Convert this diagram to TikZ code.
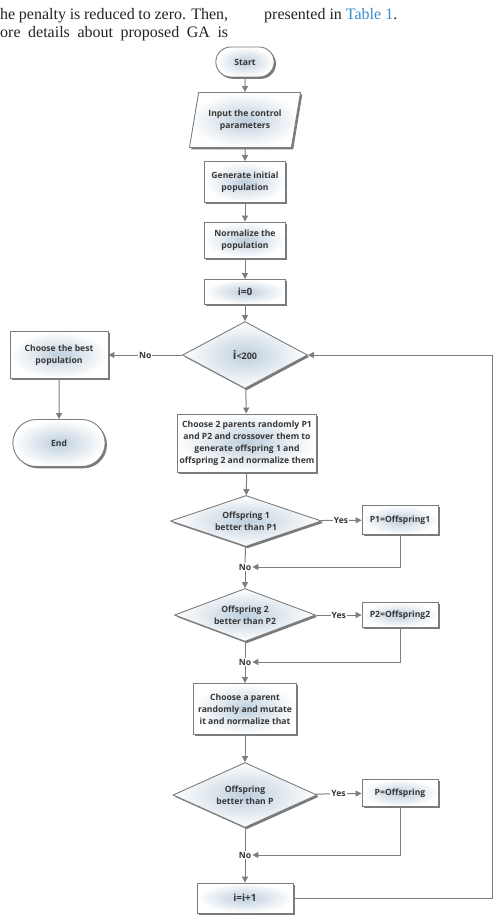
\documentclass[tikz,border=0pt]{standalone}
\usepackage{fontspec}
\setmainfont{Liberation Serif}
\newfontfamily\chartfont{Open Sans}
\usetikzlibrary{shapes.geometric,shapes.misc,shadows,arrows.meta,positioning}

\definecolor{boxline}{RGB}{125,125,125}
\definecolor{boxfill}{RGB}{190,207,221}
\definecolor{boxtext}{RGB}{55,55,55}
\definecolor{linkblue}{RGB}{55,140,200}
\definecolor{bodytext}{RGB}{35,35,35}

\tikzset{
  base/.style={draw=boxline, line width=0.9pt, text=boxtext, align=center,
    font=\chartfont\bfseries\fontsize{8.6}{12}\selectfont,
    inner color=boxfill, outer color=white,
    drop shadow={shadow xshift=1.8pt, shadow yshift=-1.8pt, fill=black!65, opacity=.8}},
  term/.style={base, rounded rectangle},
  proc/.style={base, rectangle, inner sep=2pt},
  io/.style={base, trapezium, trapezium left angle=74, trapezium right angle=106,
    trapezium stretches=true},
  decide/.style={base, diamond, inner sep=0pt, aspect=2.6},
  lbl/.style={fill=white, inner sep=1pt, text=boxtext,
    font=\chartfont\bfseries\fontsize{8.6}{10}\selectfont},
  line/.style={draw=boxline, line width=1pt},
  arrow/.style={line, -{Triangle[length=6pt,width=6pt]}},
  body/.style={text=bodytext, font=\fontsize{16}{18}\selectfont, inner sep=0pt}
}

\begin{document}
\begin{tikzpicture}[x=1pt, y=-1pt]
    \useasboundingbox (0,0) rectangle (495,915);

    % surrounding page text
    \node[body, anchor=base west] (txta) at (0,20) {\makebox[228pt][s]{he penalty is reduced to zero. Then,}};
    \node[body, anchor=base west] (txtb) at (0,38) {\makebox[228pt][s]{ore details about proposed GA is}};
    \node[body, anchor=base west] (txtc) at (264,20) {presented in \textcolor{linkblue}{Table 1}.};

    % main column
    \node[term, minimum width=65pt, minimum height=30pt] (start) at (245,62) {Start};
    \node[io, minimum width=112pt, minimum height=55pt] (input) at (245,120) {Input the control\\parameters};
    \node[proc, minimum width=81pt, minimum height=41pt] (gen) at (245,182) {Generate initial\\population};
    \node[proc, minimum width=81pt, minimum height=36pt] (norm) at (245,240) {Normalize the\\population};
    \node[proc, minimum width=81pt, minimum height=25pt] (init) at (245,292) {\fontsize{10}{12}\selectfont i=0};
    \node[decide, minimum width=125pt, minimum height=67pt] (dec) at (245,355) {\fontsize{12}{14}\selectfont i{\fontsize{9}{10}\selectfont<200}};

    % exit branch
    \node[proc, minimum width=98pt, minimum height=47pt] (best) at (59,355) {Choose the best\\population};
    \node[term, minimum width=99pt, minimum height=47pt] (end) at (59,443) {End};

    % crossover
    \node[proc, minimum width=138pt, minimum height=58pt] (cross) at (247,443) {Choose 2 parents randomly P1\\and P2 and crossover them to\\generate offspring 1 and\\offspring 2 and normalize them};
    \node[decide, minimum width=151pt, minimum height=51pt] (dec1) at (246,521) {Offspring 1\\better than P1};
    \node[proc, minimum width=76pt, minimum height=29pt] (rep1) at (400,520) {P1=Offspring1};
    \node[lbl] (no1) at (245,567) {No};
    \node[decide, minimum width=141pt, minimum height=53pt] (dec2) at (245,615) {Offspring 2\\better than P2};
    \node[proc, minimum width=76pt, minimum height=25pt] (rep2) at (400,615) {P2=Offspring2};
    \node[lbl] (no2) at (245,662) {No};

    % mutation
    \node[proc, minimum width=103pt, minimum height=51pt] (mut) at (245,709) {Choose a parent\\randomly and mutate\\it and normalize that};
    \node[decide, minimum width=144pt, minimum height=65pt] (dec3) at (245,795) {Offspring\\better than P};
    \node[proc, minimum width=76pt, minimum height=27pt] (rep3) at (400,793) {P=Offspring};
    \node[lbl] (no3) at (245,855) {No};
    \node[proc, minimum width=96pt, minimum height=30pt] (inc) at (245,898) {\fontsize{10}{12}\selectfont i=i+1};
    \coordinate (back) at (492,898);

    % connectors
    \draw[arrow] (start) -- (input);
    \draw[arrow] (input) -- (gen);
    \draw[arrow] (gen) -- (norm);
    \draw[arrow] (norm) -- (init);
    \draw[arrow] (init) -- (dec);
    \draw[arrow] (dec) -- node[lbl] {No} (best);
    \draw[arrow] (best) -- (end);
    \draw[arrow] (dec) -- (cross);
    \draw[arrow] (cross) -- (dec1);
    \draw[arrow] (dec1) -- node[lbl] {Yes} (rep1);
    \draw[line] (dec1) -- (no1);
    \draw[arrow] (rep1) |- (no1);
    \draw[arrow] (no1) -- (dec2);
    \draw[arrow] (dec2) -- node[lbl] {Yes} (rep2);
    \draw[line] (dec2) -- (no2);
    \draw[arrow] (rep2) |- (no2);
    \draw[arrow] (no2) -- (mut);
    \draw[arrow] (mut) -- (dec3);
    \draw[arrow] (dec3) -- node[lbl] {Yes} (rep3);
    \draw[line] (dec3) -- (no3);
    \draw[arrow] (rep3) |- (no3);
    \draw[arrow] (no3) -- (inc);
    \draw[arrow] (inc) -- (back) |- (dec);
\end{tikzpicture}
\end{document}
